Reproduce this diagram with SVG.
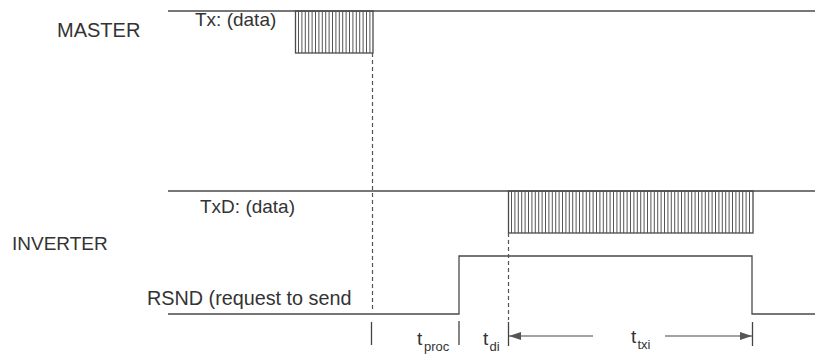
<svg xmlns="http://www.w3.org/2000/svg" width="815" height="354" viewBox="0 0 815 354">
  <style>
    .lbl { font-family: "Liberation Sans", Arial, sans-serif; font-size: 19px; fill: #333; }
    .sub { font-family: "Liberation Sans", Arial, sans-serif; font-size: 13px; fill: #333; }
    .sig { fill: none; stroke: #4a4a4a; stroke-width: 1.3; }
    .hatch { fill: none; stroke: #555; stroke-dasharray: 1 2.4; }
    .dash { fill: none; stroke: #555; stroke-width: 1.2; stroke-dasharray: 4 3; }
    .tick { fill: none; stroke: #444; stroke-width: 1.3; }
    .arr { fill: none; stroke: #444; stroke-width: 1.2; }
  </style>
  <defs>
    <marker id="ah" viewBox="0 0 12 8" refX="12" refY="4" markerWidth="12" markerHeight="8" markerUnits="userSpaceOnUse" orient="auto-start-reverse">
      <path d="M0,0 L12,4 L0,8 Z" fill="#555"/>
    </marker>
  </defs>

  <g id="master">
    <text class="lbl" x="57" y="37" style="font-size:20px">MASTER</text>
  </g>
  <g id="tx">
    <text class="lbl" x="195" y="26">Tx: (data)</text>
    <path class="sig" d="M168,11 H815"/>
    <path class="hatch" d="M298,32 H372" stroke-width="42"/>
    <rect class="sig" x="295.5" y="11" width="77.5" height="42"/>
  </g>
  <g id="inverter">
    <text class="lbl" x="12" y="250">INVERTER</text>
  </g>
  <g id="txd">
    <text class="lbl" x="200" y="213">TxD: (data)</text>
    <path class="sig" d="M168,191 H815"/>
    <path class="hatch" d="M511,212 H752" stroke-width="42"/>
    <rect class="sig" x="508.5" y="191" width="244.5" height="42"/>
  </g>
  <g id="rsnd">
    <text class="lbl" x="147" y="305" style="font-size:19.8px">RSND (request to send</text>
    <path class="sig" d="M168,314 H459 V256 H752 V314 H815"/>
  </g>

  <g id="connectors">
    <path class="dash" d="M372.5,53 V312"/>
    <path class="dash" d="M508.5,233 V320"/>
    <path class="tick" d="M371.5,322 V345 M459,321 V345 M508.5,322 V346 M752.5,322 V346"/>
    <path class="arr" d="M593,336 H509" marker-end="url(#ah)"/>
    <path class="arr" d="M665,336 H752" marker-end="url(#ah)"/>
  </g>

  <g id="labels">
    <text class="lbl" x="417" y="345">t<tspan class="sub" x="424" y="351">proc</tspan></text>
    <text class="lbl" x="483" y="345">t<tspan class="sub" x="489.5" y="351">di</tspan></text>
    <text class="lbl" x="631" y="343">t<tspan class="sub" x="637.5" y="349">txi</tspan></text>
  </g>
</svg>
